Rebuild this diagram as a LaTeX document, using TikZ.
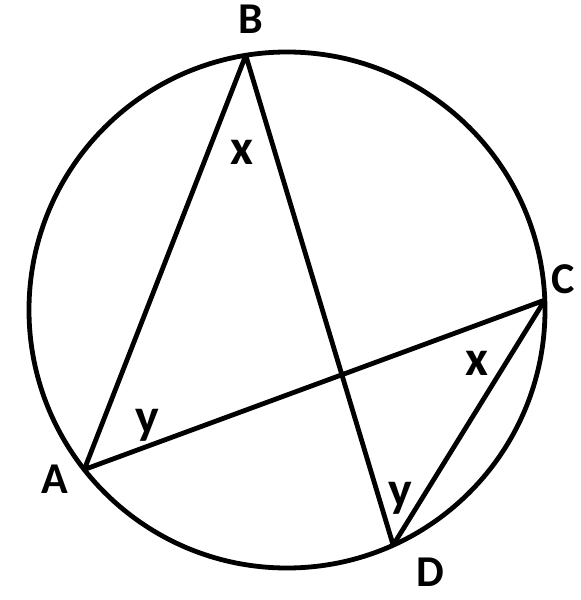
\documentclass[tikz,border=0pt]{standalone}
\usepackage{fontspec}
\setmainfont{Carlito}
\tikzstyle{chord}=[draw,line width=4.8pt,line join=round]
\tikzstyle{ptlabel}=[font=\bfseries\fontsize{44}{44}\selectfont,inner sep=0pt]
\tikzstyle{anglabel}=[font=\bfseries\fontsize{50}{50}\selectfont,inner sep=0pt]

\begin{document}
\begin{tikzpicture}[x=1pt,y=1pt]
    \useasboundingbox (-287,-290) rectangle (294,310);
    \draw[line width=4.8pt] (0,0) circle (258pt);
    % points on the circle
    \coordinate (A) at (218.2:258pt);
    \coordinate (B) at (99.2:258pt);
    \coordinate (C) at (2.2:258pt);
    \coordinate (D) at (294.3:258pt);
    \draw[chord] (A) -- (B) -- (D) -- (C) -- cycle;
    \node[ptlabel] (labA) at (-232,-169) {A};
    \node[ptlabel] (labB) at (-36,291) {B};
    \node[ptlabel] (labC) at (276,31) {C};
    \node[ptlabel] (labD) at (143,-262) {D};
    \node[anglabel] (xB) at (-45,158) {x};
    \node[anglabel] (xC) at (190,-53) {x};
    \node[anglabel] (yA) at (-140,-115) {y};
    \node[anglabel] (yD) at (113,-188) {y};
  \end{tikzpicture}
\end{document}
